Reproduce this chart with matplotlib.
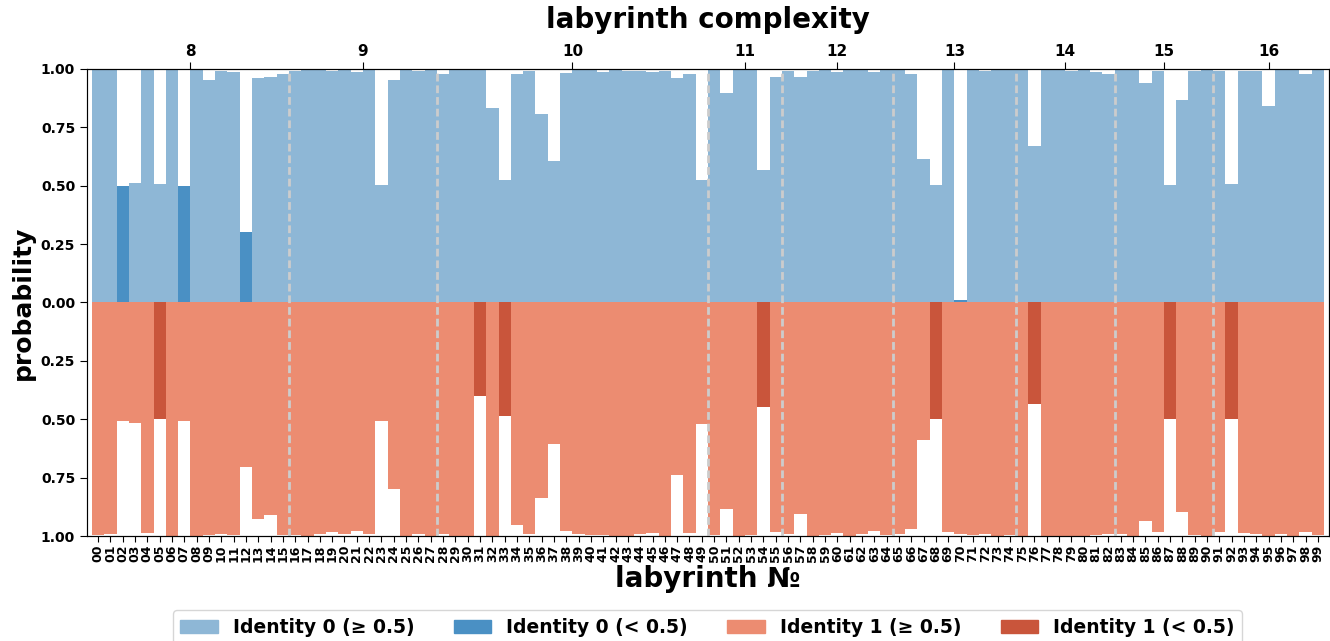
import numpy as np
import matplotlib.pyplot as plt
from matplotlib.patches import Patch

plt.rcParams['font.family'] = ['DejaVu Sans']
plt.rcParams['font.weight'] = 'bold'
plt.rcParams['axes.labelweight'] = 'bold'

# labyrinth ids and complexity groups
labyrinths = [f'{i:02d}' for i in range(100)]
complexity = [8, 9, 10, 11, 12, 13, 14, 15, 16]
group_sizes = [16, 12, 22, 6, 9, 10, 8, 8, 9]

# probability of identity 0 (upper half)
p_identity0 = [
    0.994, 1.0, 0.499, 0.51, 1.0, 0.506, 1.0, 0.498, 1.0, 0.954,
    0.99, 0.989, 0.302, 0.96, 0.966, 0.977, 0.993, 0.994, 0.994, 0.993,
    1.0, 0.987, 1.0, 0.504, 0.954, 1.0, 0.99, 1.0, 0.98, 1.0,
    1.0, 1.0, 0.835, 0.525, 0.98, 0.991, 0.807, 0.607, 0.983, 1.0,
    1.0, 0.989, 1.0, 0.991, 0.99, 0.986, 0.991, 0.961, 0.977, 0.524,
    1.0, 0.895, 1.0, 1.0, 0.567, 0.966, 0.993, 0.966, 0.99, 0.997,
    0.986, 0.995, 0.997, 0.986, 1.0, 0.997, 0.98, 0.616, 0.503, 0.995,
    0.011, 1.0, 0.99, 1.0, 1.0, 1.0, 0.67, 1.0, 1.0, 0.99,
    0.997, 0.989, 0.977, 0.994, 1.0, 0.94, 0.99, 0.503, 0.868, 0.99,
    0.995, 0.99, 0.507, 0.99, 0.99, 0.84, 0.997, 1.0, 0.978, 1.0,
]

# probability of identity 1 (lower half)
p_identity1 = [
    0.995, 0.993, 0.509, 0.514, 0.987, 0.497, 1.0, 0.509, 1.0, 0.996,
    0.991, 0.997, 0.706, 0.926, 0.91, 0.996, 0.997, 1.0, 0.993, 0.984,
    0.993, 0.979, 0.991, 0.509, 0.799, 1.0, 0.99, 1.0, 0.991, 1.0,
    1.0, 0.40, 1.0, 0.484, 0.954, 0.99, 0.837, 0.604, 0.98, 0.99,
    0.996, 0.997, 1.0, 1.0, 0.993, 0.987, 1.0, 0.737, 0.989, 0.521,
    0.997, 0.883, 1.0, 0.994, 0.447, 0.981, 0.993, 0.907, 1.0, 0.997,
    0.989, 1.0, 0.991, 0.98, 0.994, 0.99, 0.97, 0.591, 0.497, 0.984,
    0.993, 0.996, 0.991, 1.0, 0.997, 1.0, 0.434, 1.0, 1.0, 1.0,
    1.0, 0.994, 0.99, 0.993, 1.0, 0.934, 0.984, 0.497, 0.896, 0.997,
    1.0, 0.984, 0.497, 0.989, 0.99, 1.0, 0.991, 1.0, 0.984, 0.997,
]

blue_hi, blue_lo = '#8eb7d6', '#4a90c4'
red_hi, red_lo = '#ec8c71', '#c9553b'

x = np.arange(len(labyrinths))
p0 = np.array(p_identity0)
p1 = np.array(p_identity1)

fig = plt.figure(figsize=(13.3, 6.41), dpi=100)
ax = fig.add_axes([0.0654, 0.1638, 0.9338, 0.7286])

ax.bar(x, p0, width=1.0, linewidth=0,
       color=[blue_lo if v < 0.5 else blue_hi for v in p0])
ax.bar(x, -p1, width=1.0, linewidth=0,
       color=[red_lo if v < 0.5 else red_hi for v in p1])

# group borders
bounds = np.cumsum(group_sizes)[:-1] - 0.5
for b in bounds:
    ax.axvline(b, color='#cccccc', linestyle=(0, (2.8, 1.4)), linewidth=2, zorder=3)

ax.set_xlim(-0.9, 99.9)
ax.set_ylim(-1, 1)
yt = np.arange(-1, 1.01, 0.25)
ax.set_yticks(yt)
ax.set_yticklabels([f'{abs(t):.2f}' for t in yt], fontsize=10, fontweight='bold')
ax.set_xticks(x)
ax.set_xticklabels(labyrinths, rotation=90, fontsize=9, fontweight='bold')
ax.tick_params(axis='x', length=4, pad=2)
ax.tick_params(axis='y', length=5)
ax.spines['left'].set_color('0.35')
ax.set_xlabel('labyrinth №', fontsize=20, fontweight='bold', labelpad=2)
ax.set_ylabel('probability', fontsize=18, fontweight='bold', labelpad=4)

# complexity on top
ax2 = ax.twiny()
ax2.set_xlim(ax.get_xlim())
edges = np.concatenate([[0], np.cumsum(group_sizes)]) - 0.5
centers = (edges[:-1] + edges[1:]) / 2
ax2.set_xticks(centers)
ax2.set_xticklabels(complexity, fontsize=11, fontweight='bold')
ax2.tick_params(axis='x', length=5, pad=2)
ax2.set_xlabel('labyrinth complexity', fontsize=20, fontweight='bold', labelpad=12)

handles = [Patch(color=blue_hi, label='Identity 0 (≥ 0.5)'),
           Patch(color=blue_lo, label='Identity 0 (< 0.5)'),
           Patch(color=red_hi, label='Identity 1 (≥ 0.5)'),
           Patch(color=red_lo, label='Identity 1 (< 0.5)')]
fig.legend(handles=handles, loc='upper center', bbox_to_anchor=(0.532, 0.048),
           ncol=4, prop={'size': 13.5, 'weight': 'bold'}, columnspacing=2.1,
           borderaxespad=0)

fig.savefig('out.png', dpi=100)
